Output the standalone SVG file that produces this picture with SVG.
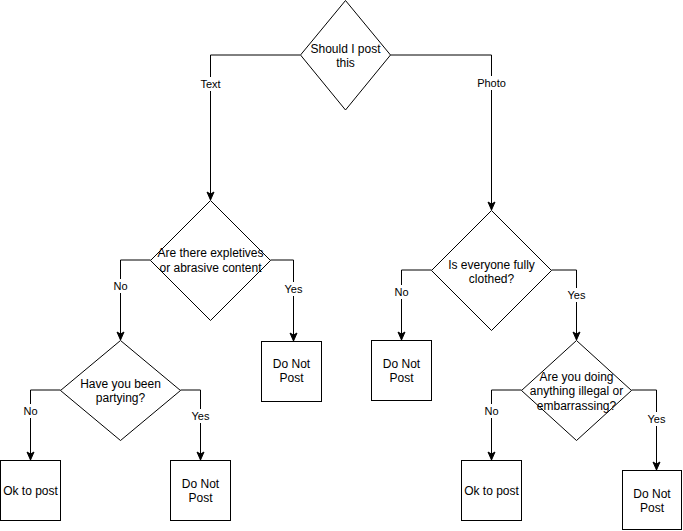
<svg xmlns="http://www.w3.org/2000/svg" width="683" height="531" viewBox="0 0 683 531">
<style>
.s{fill:#fff;stroke:#000;stroke-width:1}
.e{fill:none;stroke:#000;stroke-width:1}
.t{font-family:"Liberation Sans",Arial,Helvetica,sans-serif;font-size:12px;fill:#000;text-anchor:middle;dominant-baseline:central}
.l{font-family:"Liberation Sans",Arial,Helvetica,sans-serif;font-size:11px;fill:#000;text-anchor:middle;dominant-baseline:central}
.lb{fill:#fff;stroke:none}
</style>
<defs>
<marker id="a" markerUnits="userSpaceOnUse" markerWidth="10" markerHeight="10" viewBox="0 0 10 10" refX="9" refY="5" orient="auto">
<path d="M1,1.5 L9,5 L1,8.5 L3,5 z" fill="#000" stroke="#000" stroke-width="1"/>
</marker>
</defs>
<rect width="683" height="531" fill="#fff"/>
<g id="connectors">
<path class="e" d="M300,55 H210.5 V200" marker-end="url(#a)"/>
<path class="e" d="M390.5,55 H491.5 V210" marker-end="url(#a)"/>
<path class="e" d="M150.5,260 H120.5 V340" marker-end="url(#a)"/>
<path class="e" d="M270.5,260 H293.5 V341" marker-end="url(#a)"/>
<path class="e" d="M60.5,390 H30.5 V460" marker-end="url(#a)"/>
<path class="e" d="M180.5,390 H200.5 V460" marker-end="url(#a)"/>
<path class="e" d="M431.5,270 H401.5 V340" marker-end="url(#a)"/>
<path class="e" d="M551.5,270 H576.5 V340" marker-end="url(#a)"/>
<path class="e" d="M521.5,390 H491.5 V460" marker-end="url(#a)"/>
<path class="e" d="M631.5,390 H656.5 V470" marker-end="url(#a)"/>
<rect class="lb" x="197" y="77" width="27" height="14"/><text class="l" x="210.5" y="84">Text</text>
<rect class="lb" x="474" y="76" width="35" height="14"/><text class="l" x="491.5" y="83">Photo</text>
<rect class="lb" x="111" y="279" width="19" height="14"/><text class="l" x="120.5" y="286">No</text>
<rect class="lb" x="283" y="282" width="21" height="14"/><text class="l" x="293.5" y="289">Yes</text>
<rect class="lb" x="21" y="404" width="19" height="14"/><text class="l" x="30.5" y="411">No</text>
<rect class="lb" x="190" y="409" width="21" height="14"/><text class="l" x="200.5" y="416">Yes</text>
<rect class="lb" x="392" y="285" width="19" height="14"/><text class="l" x="401.5" y="292">No</text>
<rect class="lb" x="566" y="288" width="21" height="14"/><text class="l" x="576.5" y="295">Yes</text>
<rect class="lb" x="482" y="404" width="19" height="14"/><text class="l" x="491.5" y="411">No</text>
<rect class="lb" x="646" y="412" width="21" height="14"/><text class="l" x="656.5" y="419">Yes</text>
</g>
<g id="q1">
<path class="s" d="M345.5,0.5 L390.5,55 L345.5,110 L300.5,55 Z"/>
<text class="t" x="345.5" y="48.5">Should I post</text>
<text class="t" x="345.5" y="62.5">this</text>
</g>
<g id="q2">
<path class="s" d="M210.5,200.5 L270.5,260.5 L210.5,320.5 L150.5,260.5 Z"/>
<text class="t" x="210.5" y="253">Are there expletives</text>
<text class="t" x="210.5" y="267.5">or abrasive content</text>
</g>
<g id="r1">
<rect class="s" x="261.5" y="341.5" width="60" height="60"/>
<text class="t" x="291.5" y="364">Do Not</text>
<text class="t" x="291.5" y="378">Post</text>
</g>
<g id="q3">
<path class="s" d="M120.5,340.5 L180.5,390.5 L120.5,440.5 L60.5,390.5 Z"/>
<text class="t" x="120.5" y="384">Have you been</text>
<text class="t" x="120.5" y="398">partying?</text>
</g>
<g id="r2">
<rect class="s" x="0.5" y="460.5" width="60" height="60"/>
<text class="t" x="30.5" y="490.5">Ok to post</text>
</g>
<g id="r3">
<rect class="s" x="170.5" y="460.5" width="60" height="60"/>
<text class="t" x="200.5" y="483.5">Do Not</text>
<text class="t" x="200.5" y="497.5">Post</text>
</g>
<g id="q4">
<path class="s" d="M491.5,210.5 L551.5,270.5 L491.5,330.5 L431.5,270.5 Z"/>
<text class="t" x="491.5" y="264.5">Is everyone fully</text>
<text class="t" x="491.5" y="279">clothed?</text>
</g>
<g id="r4">
<rect class="s" x="371.5" y="340.5" width="60" height="60"/>
<text class="t" x="401.5" y="363.5">Do Not</text>
<text class="t" x="401.5" y="377.5">Post</text>
</g>
<g id="q5">
<path class="s" d="M576.5,340.5 L631.5,390.5 L576.5,440.5 L521.5,390.5 Z"/>
<text class="t" x="576.5" y="376.5">Are you doing</text>
<text class="t" x="576.5" y="391">anything illegal or</text>
<text class="t" x="576.5" y="405.5">embarrassing?</text>
</g>
<g id="r5">
<rect class="s" x="461.5" y="460.5" width="60" height="60"/>
<text class="t" x="491.5" y="490.5">Ok to post</text>
</g>
<g id="r6">
<rect class="s" x="622.5" y="470.5" width="59" height="59"/>
<text class="t" x="652" y="493.5">Do Not</text>
<text class="t" x="652" y="507.5">Post</text>
</g>
</svg>
